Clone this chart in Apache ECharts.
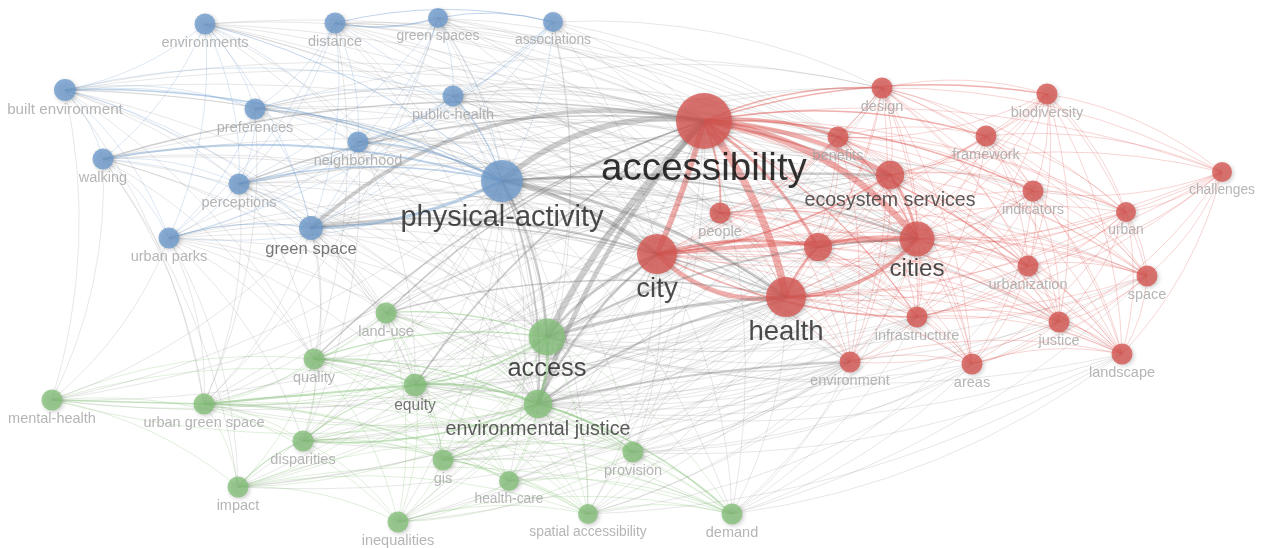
<!DOCTYPE html>
<html>
<head>
<meta charset="utf-8">
<script src="https://cdn.jsdelivr.net/npm/echarts@6/dist/echarts.min.js"></script>
<style>
  html, body { margin: 0; padding: 0; background: #fff; }
  #chart { width: 1267px; height: 548px; }
</style>
</head>
<body>
<div id="chart"></div>
<script>
// Keyword co-occurrence map: terms, their cluster and their map coordinates
const keywords = [
  'environments', 'distance', 'green spaces', 'associations', 'built environment',
  'preferences', 'public-health', 'neighborhood', 'walking', 'perceptions',
  'physical-activity', 'urban parks', 'green space',
  'accessibility', 'design', 'biodiversity', 'benefits', 'framework',
  'ecosystem services', 'challenges', 'indicators', 'people', 'urban',
  'parks', 'cities', 'city', 'urbanization', 'space', 'health',
  'infrastructure', 'justice', 'environment', 'areas', 'landscape',
  'land-use', 'access', 'quality', 'equity', 'environmental justice',
  'mental-health', 'urban green space', 'disparities', 'gis', 'provision',
  'health-care', 'impact', 'inequalities', 'spatial accessibility', 'demand'
];
const clusters = [
  0, 0, 0, 0, 0, 0, 0, 0, 0, 0, 0, 0, 0,
  1, 1, 1, 1, 1, 1, 1, 1, 1, 1, 1, 1, 1, 1, 1, 1, 1, 1, 1, 1, 1,
  2, 2, 2, 2, 2, 2, 2, 2, 2, 2, 2, 2, 2, 2, 2
];
const mapX = [
  205, 335, 438, 553, 65, 255, 453, 358, 103, 239, 502, 169, 311,
  704, 882, 1047, 838, 986, 890, 1222, 1033, 720, 1126, 818, 917, 657, 1028, 1147, 786, 917, 1059, 850, 972, 1122,
  386, 547, 314, 415, 538, 52, 204, 303, 443, 633, 509, 238, 398, 588, 732
];
const mapY = [
  24, 23, 18, 22, 90, 109, 96, 142, 159, 184, 181, 238, 228,
  121, 88, 94, 137, 136, 175, 172, 191, 213, 212, 247, 239, 254, 266, 276, 297, 317, 322, 362, 364, 354,
  313, 337, 359, 385, 404, 400, 404, 441, 460, 452, 481, 487, 522, 514, 514
];
// Total link strength of each term (drives circle and label size)
const weights = [
  10.5, 10.5, 10, 10, 11, 10.5, 10.5, 10.5, 10.5, 10.5, 21, 10.5, 12,
  28, 10.5, 10.5, 10.5, 10.5, 14.2, 10, 10.5, 10.5, 10, 14, 17.5, 20, 10.5, 10.5, 20, 10.5, 10.5, 10.5, 10.5, 10.5,
  10.5, 18.4, 10.5, 11.3, 14.3, 10.5, 10.5, 10.5, 10.5, 10.5, 10, 10.5, 10.5, 10, 10.5
];
// Strong co-occurrence links: [source, target, strength]
const strongLinks = [
  [13, 28, 8], [13, 25, 6], [13, 24, 7], [13, 18, 5], [13, 16, 3], [13, 23, 3],
  [25, 24, 4], [28, 25, 5], [24, 28, 4], [25, 23, 3], [28, 23, 2.5], [23, 24, 2.5],
  [13, 21, 2], [13, 14, 1.5], [13, 17, 1.5], [18, 24, 3], [13, 15, 1.5], [13, 20, 1.5],
  [13, 26, 1.5], [13, 29, 1.5], [18, 25, 2], [16, 24, 1.5],
  [10, 13, 6], [35, 13, 7], [38, 13, 5], [12, 13, 4], [10, 25, 4], [10, 28, 3],
  [10, 18, 2.5], [35, 28, 3], [35, 25, 3], [38, 25, 2.5], [38, 28, 2], [38, 31, 2],
  [35, 24, 2], [10, 24, 2], [12, 25, 2], [37, 13, 2], [10, 35, 2.5], [10, 38, 2],
  [9, 13, 1.5], [8, 13, 1.5], [12, 28, 1.5], [36, 13, 1.5], [34, 13, 1.5],
  [34, 28, 1.5], [29, 25, 1.5],
  [10, 12, 3], [8, 10, 2], [4, 10, 1.5], [9, 10, 1.5], [7, 10, 1.5], [6, 10, 1.5],
  [5, 10, 1.2], [2, 1, 1.5], [1, 3, 1], [2, 3, 1], [11, 12, 1.2], [0, 10, 1],
  [35, 38, 3], [35, 37, 2], [37, 38, 2.5], [38, 42, 1.5], [38, 43, 1.5], [38, 41, 1.5],
  [38, 48, 1.5], [40, 37, 2], [39, 40, 1.5], [36, 38, 1.5], [36, 35, 1.5], [36, 37, 1.5],
  [34, 35, 1.2], [41, 37, 1.2], [45, 41, 1.2]
];
// Weaker co-occurrence links, listed per term
const weakLinks = {
  0: [4, 8, 9, 12, 13, 25, 28, 35, 38, 11, 7, 5, 31, 16, 21, 24],
  1: [5, 10, 12, 13, 25, 28, 35, 38, 7, 9, 11, 21, 36, 16, 24, 18],
  2: [6, 10, 12, 13, 25, 28, 35, 38, 40, 7, 9, 21, 24, 16],
  3: [6, 10, 12, 13, 25, 28, 35, 38, 7, 9, 11, 18, 14],
  4: [8, 12, 13, 25, 28, 35, 38, 11, 5, 9, 7, 6, 34, 36, 39, 24, 18, 40],
  5: [6, 12, 13, 25, 28, 35, 38, 11, 9, 18, 40, 21, 24, 16, 14],
  6: [12, 13, 25, 28, 35, 38, 7, 9, 24, 18, 16, 21, 14, 23],
  7: [12, 13, 25, 28, 35, 38, 9, 11, 37, 41, 24, 18, 21, 31, 16],
  8: [12, 25, 28, 35, 38, 11, 9, 34, 36, 39, 45, 24, 18, 40],
  9: [12, 25, 28, 35, 38, 11, 36, 40, 24, 18, 21, 31, 34],
  10: [11, 21, 31, 34, 36, 37, 39, 40, 41, 42, 16, 14, 29, 26, 20, 30, 32, 33, 43, 44, 45, 46, 47, 48, 22, 27],
  11: [13, 25, 28, 35, 38, 36, 40, 41, 45, 34, 24, 31, 37, 39],
  12: [35, 38, 24, 18, 36, 37, 40, 41, 34, 39, 42, 31, 21, 16, 29, 14, 23],
  13: [19, 22, 27, 30, 31, 32, 33, 39, 40, 41, 42, 43, 44, 45, 46, 47, 48],
  14: [15, 16, 17, 18, 24, 25, 28, 23, 31, 29, 21, 35, 38, 19, 26, 30, 32, 33, 27, 22, 20],
  15: [17, 18, 19, 22, 24, 26, 27, 30, 33, 20, 25, 28, 29, 16, 23],
  16: [18, 25, 28, 23, 17, 20, 29, 31, 35, 38, 21, 26, 30, 32, 33, 27, 22],
  17: [18, 19, 20, 24, 25, 28, 22, 26, 29, 33, 27, 30],
  18: [19, 20, 22, 23, 26, 27, 28, 29, 30, 31, 32, 33, 35, 38, 21],
  19: [20, 22, 24, 26, 27, 30, 33, 25, 28, 29],
  20: [22, 24, 25, 26, 27, 28, 29, 30, 32, 33, 35, 38],
  21: [23, 24, 25, 28, 35, 38, 31, 26, 29, 32, 30, 27, 33],
  22: [24, 25, 26, 27, 28, 30, 33, 32, 29],
  23: [29, 31, 32, 35, 38, 26, 27, 30, 33, 20, 22],
  24: [26, 27, 29, 30, 31, 32, 33, 38, 37, 34, 36, 40, 41, 42, 43, 44, 45, 46, 47, 48],
  25: [26, 27, 30, 31, 32, 33, 36, 37, 39, 40, 41, 42, 43, 44, 45, 46, 47, 48],
  26: [27, 28, 29, 30, 32, 33, 35, 38, 48],
  27: [28, 30, 33, 32, 29, 35, 38, 48],
  28: [29, 30, 31, 32, 33, 36, 37, 39, 40, 41, 42, 43, 44, 45, 46, 47, 48],
  29: [30, 31, 32, 33, 35, 38, 34, 37, 42, 43, 47, 48],
  30: [32, 33, 35, 38, 31, 43],
  31: [32, 33, 35, 43, 48, 34, 36, 37, 40, 41, 42, 44, 45, 46, 47],
  32: [33, 35, 38, 48, 47, 43],
  33: [35, 38, 48, 47, 43],
  34: [36, 37, 38, 40, 41, 42, 18, 21, 43, 44, 46, 47],
  35: [39, 40, 41, 42, 43, 44, 45, 46, 47, 48],
  36: [40, 41, 42, 45, 46, 47, 18, 43, 44, 48],
  37: [42, 43, 44, 45, 46, 47, 48, 18, 21],
  38: [39, 40, 44, 45, 46, 47],
  39: [41, 45, 36, 37],
  40: [41, 42, 45, 46, 47, 18, 43, 44, 48],
  41: [42, 43, 44, 46, 47, 48, 18],
  42: [43, 44, 46, 47, 48, 18],
  43: [44, 46, 47, 48, 18],
  44: [46, 47, 48],
  45: [46, 47, 48, 43],
  46: [47, 48, 43],
  47: [48]
};

// ---- styling ----
const clusterColors = ['#6e9bcc', '#d75853', '#86c17a'];
const clusterLineRGB = ['110,155,205', '220,80,75', '125,190,110'];
const grayRGB = '115,115,115';

// bend for the long arcs between the main terms
const curveOverrides = {
  '13-28': 0.12, '13-25': 0.04, '13-24': 0.2, '28-25': 0.25, '24-28': 0.22,
  '25-24': 0.02, '10-13': 0.22, '12-13': 0.25, '10-18': 0.02, '35-28': 0.06,
  '35-13': 0.08, '38-13': 0.1, '38-31': 0.05, '40-37': 0.0, '39-40': 0.0
};

function labelColor(w) {
  if (w < 11.2) return '#a2a2a2';
  if (w < 12.5) return '#555555';
  if (w < 15) return '#333333';
  if (w < 25) return '#1e1e1e';
  return '#000000';
}

const order = keywords.map((_, i) => i).sort((a, b) => weights[a] - weights[b]);
const nodes = order.map(i => ({
  name: keywords[i],
  x: mapX[i],
  y: mapY[i],
  symbolSize: weights[i] * 2,
  itemStyle: {
    color: clusterColors[clusters[i]],
    opacity: 0.8,
    shadowBlur: 4,
    shadowOffsetX: 1.5,
    shadowOffsetY: 1.5,
    shadowColor: 'rgba(0,0,0,0.25)'
  },
  label: {
    show: keywords[i] !== 'parks',
    fontSize: Math.round(weights[i] * 1.38 * 10) / 10,
    color: labelColor(weights[i])
  }
}));

const seen = new Set();
const weakList = [];
const strongList = [];
function key(a, b) { return Math.min(a, b) + '-' + Math.max(a, b); }

strongLinks.forEach(([s, t, w]) => {
  seen.add(key(s, t));
  const same = clusters[s] === clusters[t];
  const rgb = same ? clusterLineRGB[clusters[s]] : grayRGB;
  const c = curveOverrides[s + '-' + t];
  strongList.push({
    source: keywords[s],
    target: keywords[t],
    lineStyle: {
      width: w * 0.95,
      color: 'rgb(' + rgb + ')',
      opacity: same ? 0.45 : 0.35,
      curveness: c !== undefined ? c : 0.12
    }
  });
});
Object.keys(weakLinks).forEach(k => {
  const s = +k;
  weakLinks[k].forEach(t => {
    if (seen.has(key(s, t))) return;
    seen.add(key(s, t));
    const same = clusters[s] === clusters[t];
    const rgb = same ? clusterLineRGB[clusters[s]] : grayRGB;
    weakList.push({
      source: keywords[s],
      target: keywords[t],
      lineStyle: {
        width: 0.8,
        color: 'rgb(' + rgb + ')',
        opacity: same ? 0.3 : 0.22,
        curveness: 0.13
      }
    });
  });
});

const chart = echarts.init(document.getElementById('chart'), null, { renderer: 'canvas' });
chart.setOption({
  backgroundColor: '#ffffff',
  animation: false,
  series: [{
    type: 'graph',
    layout: 'none',
    left: 52,
    top: 18,
    width: 1170,
    height: 504,
    roam: false,
    silent: true,
    data: nodes,
    links: weakList.concat(strongList),
    symbol: 'circle',
    label: {
      show: true,
      position: 'bottom',
      distance: 1,
      fontFamily: 'Liberation Sans, Arial, sans-serif'
    },
    emphasis: { disabled: true }
  }]
});
</script>
</body>
</html>
